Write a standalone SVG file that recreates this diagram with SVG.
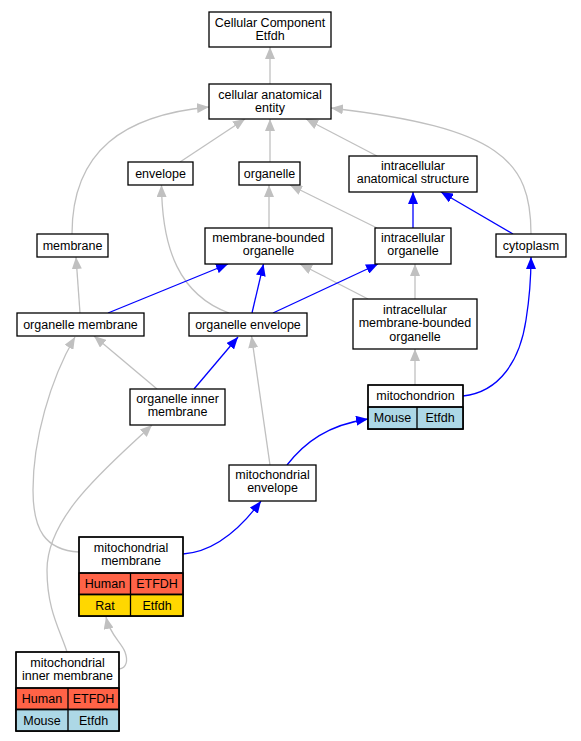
<svg xmlns="http://www.w3.org/2000/svg" width="581" height="741" viewBox="0 0 581 741">
<style>
text{font-family:"Liberation Sans",Arial,sans-serif;font-size:12.5px;fill:#000;text-anchor:middle}
.n rect{fill:#fff;stroke:#000;stroke-width:1.3}
.n rect.o{fill:none}
.c{fill:none;stroke-width:1.3}
.g{stroke:#c0c0c0}
.b{stroke:#0000ff}
.n rect.hu{fill:#ff6347}
.n rect.ra{fill:#ffd700}
.n rect.mo{fill:#add8e6}
.ln{stroke:#000;stroke-width:1.3;fill:none}
</style>
<defs>
<marker id="ag" viewBox="0 0 12 10" refX="12" refY="5" markerWidth="12" markerHeight="10" markerUnits="userSpaceOnUse" orient="auto"><path d="M0,0 L12,5 L0,10 z" fill="#c0c0c0"/></marker>
<marker id="ab" viewBox="0 0 12 10" refX="12" refY="5" markerWidth="12" markerHeight="10" markerUnits="userSpaceOnUse" orient="auto"><path d="M0,0 L12,5 L0,10 z" fill="#0000ff"/></marker>
</defs>
<g id="edges">
<g class="c g" marker-end="url(#ag)">
<path d="M270,84 L270,47"/>
<path d="M180,162 L245,119"/>
<path d="M270,162 L270,119"/>
<path d="M377,156 L306,119"/>
<path d="M72,234 C72,150 125,115 209,107"/>
<path d="M531,234 C531,160 500,128 331,108"/>
<path d="M377,228 L290,185"/>
<path d="M269,228 L269,185"/>
<path d="M229,313 C180,295 162,250 161.5,185"/>
<path d="M80,313 L76,257"/>
<path d="M368,299 L300,264"/>
<path d="M415,299 L415,264"/>
<path d="M415,385 L415,349"/>
<path d="M157,389 L94,336"/>
<path d="M79,552 C45,550 33,530 33,490 C33,440 50,380 75,337"/>
<path d="M270,465 L251.5,336"/>
<path d="M67,652 C60,630 47,610 47,570 C47,515 110,465 152,425"/>
<path d="M119,669 C127,668 128,660 125,652 C121,642 110,635 106,617"/>
</g>
<g class="c b" marker-end="url(#ab)">
<path d="M108,313 L228,264"/>
<path d="M252,313 L263.5,264"/>
<path d="M273,313 L378,264"/>
<path d="M413,228 L413,192"/>
<path d="M513,234 L441,192"/>
<path d="M194,389 L238,337"/>
<path d="M183,554 C212,552 238,532 261,501"/>
<path d="M287,465 C305,442 328,425 368,419"/>
<path d="M463,396 C500,392 520,360 526,320 C530,295 531,280 531,257"/>
</g>
</g>
<g id="n_cce" class="n"><rect x="209" y="12" width="122" height="35"/><text x="270" y="26.5">Cellular Component</text><text x="270" y="39.5">Etfdh</text></g>
<g id="n_cae" class="n"><rect x="209" y="84" width="122" height="35"/><text x="270" y="98.5">cellular anatomical</text><text x="270" y="111.5">entity</text></g>
<g id="n_envelope" class="n"><rect x="128" y="162" width="65" height="23"/><text x="160.5" y="177.5">envelope</text></g>
<g id="n_organelle" class="n"><rect x="239" y="162" width="61" height="23"/><text x="269.5" y="177.5">organelle</text></g>
<g id="n_ias" class="n"><rect x="349" y="156" width="128" height="36"/><text x="413" y="170">intracellular</text><text x="413" y="183.3">anatomical structure</text></g>
<g id="n_membrane" class="n"><rect x="37" y="234" width="71" height="23"/><text x="72.5" y="249.5">membrane</text></g>
<g id="n_mbo" class="n"><rect x="205" y="228" width="127" height="36"/><text x="268.5" y="242">membrane-bounded</text><text x="268.5" y="255.3">organelle</text></g>
<g id="n_io" class="n"><rect x="375" y="228" width="76" height="36"/><text x="413" y="242">intracellular</text><text x="413" y="255.3">organelle</text></g>
<g id="n_cytoplasm" class="n"><rect x="496" y="234" width="70" height="23"/><text x="531" y="249.5">cytoplasm</text></g>
<g id="n_om" class="n"><rect x="17" y="313" width="127" height="23"/><text x="80.5" y="328.5">organelle membrane</text></g>
<g id="n_oe" class="n"><rect x="189" y="313" width="118" height="23"/><text x="248" y="328.5">organelle envelope</text></g>
<g id="n_imbo" class="n"><rect x="353" y="299" width="124" height="50"/><text x="415" y="314">intracellular</text><text x="415" y="327.3">membrane-bounded</text><text x="415" y="340.6">organelle</text></g>
<g id="n_oim" class="n"><rect x="130" y="389" width="95" height="36"/><text x="177.5" y="403">organelle inner</text><text x="177.5" y="416.3">membrane</text></g>
<g id="n_mito" class="n"><rect x="368" y="385" width="95" height="44"/><rect class="mo" x="368" y="407" width="95" height="22"/><rect class="o" x="368" y="385" width="95" height="44"/><path class="ln" d="M368,407 L463,407 M417,407 L417,429"/><text x="415.5" y="400">mitochondrion</text><text x="392.5" y="422">Mouse</text><text x="440" y="422">Etfdh</text></g>
<g id="n_me" class="n"><rect x="229" y="465" width="87" height="36"/><text x="272.5" y="479">mitochondrial</text><text x="272.5" y="492.3">envelope</text></g>
<g id="n_mm" class="n"><rect x="79" y="537" width="104" height="79"/><rect class="hu" x="79" y="573" width="104" height="21.5"/><rect class="ra" x="79" y="594.5" width="104" height="21.5"/><rect class="o" x="79" y="537" width="104" height="79"/><path class="ln" d="M79,573 L183,573 M79,594.5 L183,594.5 M130.5,573 L130.5,616"/><text x="131" y="551.5">mitochondrial</text><text x="131" y="564.8">membrane</text><text x="105" y="588">Human</text><text x="157" y="588">ETFDH</text><text x="105" y="609.5">Rat</text><text x="157" y="609.5">Etfdh</text></g>
<g id="n_mim" class="n"><rect x="16" y="652" width="103" height="79"/><rect class="hu" x="16" y="688" width="103" height="21.5"/><rect class="mo" x="16" y="709.5" width="103" height="21.5"/><rect class="o" x="16" y="652" width="103" height="79"/><path class="ln" d="M16,688 L119,688 M16,709.5 L119,709.5 M68,688 L68,731"/><text x="67.5" y="666.5">mitochondrial</text><text x="67.5" y="679.8">inner membrane</text><text x="42" y="703">Human</text><text x="93.5" y="703">ETFDH</text><text x="42" y="724.5">Mouse</text><text x="93.5" y="724.5">Etfdh</text></g>
</svg>
